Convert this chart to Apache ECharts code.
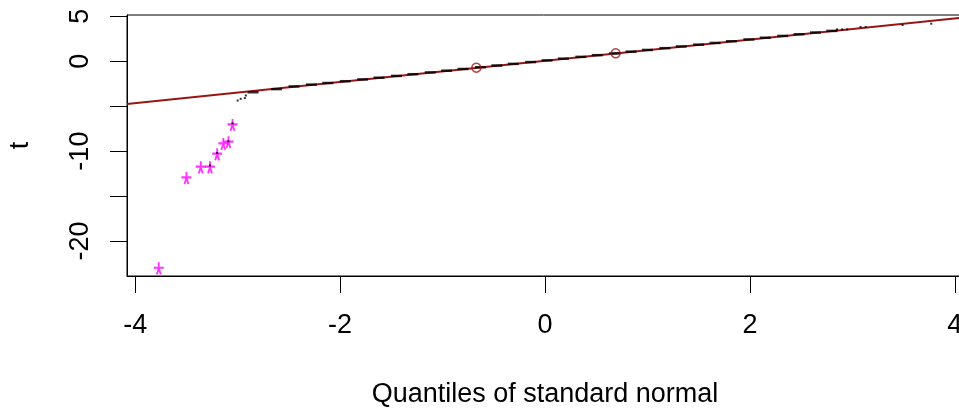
<!DOCTYPE html>
<html><head><meta charset="utf-8">
<script src="https://cdn.jsdelivr.net/npm/echarts@6/dist/echarts.min.js"></script>
<style>html,body{margin:0;padding:0;background:#fff}#c{width:959px;height:408px}</style>
</head><body><div id="c"></div>
<script>
// ---- data ----
const xTickLabels = [-4, -2, 0, 2, 4];
const yTickMarks = [-20, -15, -10, -5, 0, 5];
const yTickLabels = [-20, -10, 0, 5];

const dashX = [-2.85,-2.62,-2.45,-2.28,-2.12,-1.95,-1.78,-1.62,-1.45,-1.29,-1.12,-0.96,-0.80,-0.63,-0.47,-0.31,-0.14,0.02,0.18,0.35,0.51,0.68,0.84,1.00,1.17,1.33,1.50,1.66,1.82,1.99,2.15,2.32,2.48,2.64,2.80];
const dashY = [-3.45,-3.10,-2.80,-2.60,-2.42,-2.22,-2.02,-1.83,-1.63,-1.44,-1.24,-1.05,-0.86,-0.66,-0.47,-0.29,-0.09,0.10,0.29,0.49,0.68,0.88,1.07,1.26,1.46,1.65,1.85,2.04,2.23,2.43,2.62,2.82,3.01,3.20,3.38];

const dotX = [-3.00,-2.97,-2.93,-2.92,2.85,2.90,2.95,3.08,3.13,3.49,3.77,-3.05,-3.09,-3.20,-3.27];
const dotY = [-4.37,-4.18,-4.10,-3.81,3.55,3.55,3.55,3.81,3.81,4.03,4.18,-6.9,-8.9,-10.2,-11.6];

const starX = [-3.77,-3.50,-3.36,-3.27,-3.20,-3.14,-3.09,-3.05];
const starY = [-23.05,-13.0,-11.8,-11.8,-10.35,-9.2,-9.0,-7.08];

const circX = [-0.67, 0.69];
const circY = [-0.71, 0.88];

const lineX = [-4.08, 4.08];
const lineY = [-4.76, 4.86];

const zip = (a, b) => a.map((v, i) => [v, b[i]]);

const FONT = '"Liberation Sans", Arial, sans-serif';
const starPath = 'path://M5,0 L5,5 M0,4.5 L10,4.5 M5,5 L3,10 M5,5 L7,10';

const chart = echarts.init(document.getElementById('c'), null, {renderer: 'canvas'});
chart.setOption({
  animation: false,
  backgroundColor: '#fff',
  grid: {left: 127, top: 15, width: 836, height: 261, show: true, borderColor: '#000', borderWidth: 1, backgroundColor: 'transparent', containLabel: false, outerBoundsMode: 'none'},
  xAxis: {
    type: 'value', min: -4.08, max: 4.08,
    name: 'Quantiles of standard normal', nameLocation: 'middle', nameGap: 105,
    nameTextStyle: {fontFamily: FONT, fontSize: 27, color: '#000'},
    axisLine: {show: true, onZero: false, lineStyle: {color: '#000', width: 1}},
    axisTick: {show: true, inside: false, length: 17, customValues: xTickLabels, lineStyle: {color: '#000', width: 1}},
    axisLabel: {show: true, customValues: xTickLabels, margin: 36, fontFamily: FONT, fontSize: 27, color: '#000'},
    splitLine: {show: false}
  },
  yAxis: {
    type: 'value', min: -23.9, max: 5.15,
    name: 't', nameLocation: 'middle', nameGap: 93, nameRotate: 90,
    nameTextStyle: {fontFamily: FONT, fontSize: 27, color: '#000'},
    axisLine: {show: true, onZero: false, lineStyle: {color: '#000', width: 1}},
    axisTick: {show: true, inside: false, length: 17, customValues: yTickMarks, lineStyle: {color: '#000', width: 1}},
    axisLabel: {show: true, customValues: yTickLabels, rotate: 90, margin: 33, fontFamily: FONT, fontSize: 27, color: '#000'},
    splitLine: {show: false}
  },
  series: [
    {type: 'line', data: zip(lineX, lineY), showSymbol: false, lineStyle: {color: '#991515', width: 2}, z: 2, silent: true},
    {type: 'scatter', data: zip(dashX, dashY), symbol: 'rect', symbolSize: [11, 2.5], itemStyle: {color: '#000'}, z: 3, silent: true},
    {type: 'scatter', data: zip(dotX, dotY), symbol: 'rect', symbolSize: 2, itemStyle: {color: '#000'}, z: 4, silent: true},
    {type: 'scatter', data: zip(circX, circY), symbol: 'circle', symbolSize: 9, itemStyle: {color: 'transparent', borderColor: '#991515', borderWidth: 1.5}, z: 5, silent: true},
    {type: 'scatter', data: zip(starX, starY), symbol: starPath, symbolSize: [10, 12], itemStyle: {color: 'transparent', borderColor: '#ff00ff', borderWidth: 2}, z: 3, silent: true}
  ]
});
</script></body></html>
